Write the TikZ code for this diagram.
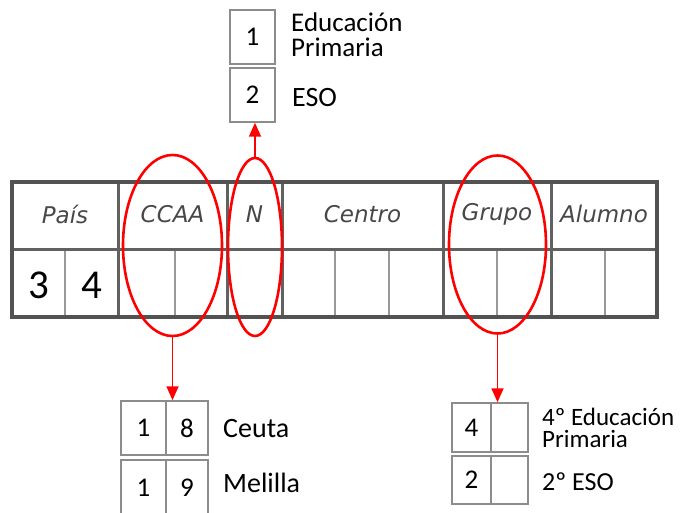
\documentclass[tikz,border=0pt]{standalone}
\usepackage{fontspec}
\setmainfont{Carlito}
\newfontfamily\hdrfont{DejaVu Sans}
\usetikzlibrary{shapes.geometric,arrows.meta}
\begin{document}
\begin{tikzpicture}[x=1pt,y=-1pt,
  hdr/.style={font=\hdrfont\itshape\fontsize{23pt}{26pt}\selectfont, text=black!72, inner sep=0pt},
  bigdig/.style={font=\fontsize{41pt}{44pt}\selectfont, inner sep=0pt},
  box/.style={draw=black!45, line width=1.5pt, inner sep=0pt, font=\fontsize{27pt}{30pt}\selectfont},
  lbl/.style={anchor=base west, align=left, inner sep=0pt},
  oval/.style={ellipse, draw=red, line width=2.6pt, inner sep=0pt, outer sep=0pt},
  arr/.style={draw=red, line width=1.8pt, -{Triangle[length=14pt,width=12pt]}},
  major/.style={draw=black!62, line width=3pt},
  minor/.style={draw=black!40, line width=2pt}
]
\useasboundingbox (0,0) rectangle (683,513);
\clip (0,0) rectangle (683,513);

% main table
\draw[minor] (65,250) -- (65,317);
\draw[minor] (175,250) -- (175,317);
\draw[minor] (335,250) -- (335,317);
\draw[minor] (389,250) -- (389,317);
\draw[minor] (497,250) -- (497,317);
\draw[minor] (605,250) -- (605,317);
\draw[major] (12,250) -- (657,250);
\foreach \x in {118,227,282,443,551} \draw[major] (\x,182) -- (\x,317);
\draw[draw=black!68, line width=4pt] (12,182) rectangle (657,317);

\node[hdr] (hpais) at (65,214) {País};
\node[hdr] (hccaa) at (172.5,214) {CCAA};
\node[hdr] (hn) at (254.5,214) {N};
\node[hdr] (hcentro) at (362.5,214) {Centro};
\node[hdr] (hgrupo) at (497,214) {Grupo};
\node[hdr] (halumno) at (604,214) {Alumno};
\node[bigdig] (d3) at (39,285.5) {3};
\node[bigdig] (d4) at (91.5,285.5) {4};

% ellipses
\node[oval, minimum width=99pt, minimum height=181pt] (eccaa) at (172.5,245.5) {};
\node[oval, minimum width=54pt, minimum height=178pt] (en) at (255,247) {};
\node[oval, minimum width=97pt, minimum height=178pt] (egrupo) at (497.5,244.5) {};

% top boxes
\node[box, minimum width=45pt, minimum height=54pt] (tb1) at (252.5,37) {1};
\node[box, minimum width=45pt, minimum height=54pt] (tb2) at (252.5,95) {2};
\node[lbl, font=\fontsize{27pt}{25pt}\selectfont] (tl1) at (291,57) {Educación\\Primaria};
\node[lbl, font=\fontsize{28pt}{30pt}\selectfont] (tl2) at (292,107) {ESO};

% bottom left boxes
\node[box, minimum width=45pt, minimum height=54pt] (bl1a) at (143.5,428) {1};
\node[box, minimum width=42pt, minimum height=54pt] (bl1b) at (187,428) {8};
\node[box, minimum width=45pt, minimum height=56pt] (bl2a) at (143.5,488) {1};
\node[box, minimum width=42pt, minimum height=56pt] (bl2b) at (187,488) {9};
\node[lbl, font=\fontsize{28pt}{30pt}\selectfont] (ceuta) at (223,437) {Ceuta};
\node[lbl, font=\fontsize{28pt}{30pt}\selectfont] (melilla) at (223,492) {Melilla};

% bottom right boxes
\node[box, minimum width=39pt, minimum height=49pt] (br1a) at (471.5,427.5) {4};
\node[box, minimum width=37pt, minimum height=49pt] (br1b) at (509.5,427.5) {};
\node[box, minimum width=39pt, minimum height=48pt] (br2a) at (471.5,480) {2};
\node[box, minimum width=37pt, minimum height=48pt] (br2b) at (509.5,480) {};
\node[lbl, font=\fontsize{25pt}{22pt}\selectfont] (edu4) at (542,447) {4º Educación\\Primaria};
\node[lbl, font=\fontsize{26pt}{28pt}\selectfont] (eso2) at (542,490) {2º ESO};

% arrows
\draw[arr] (eccaa.south) -- (eccaa.south |- bl1a.north);
\draw[arr] (en.north) -- (en.north |- tb2.south);
\draw[arr] (egrupo.south) -- (egrupo.south |- br1a.north);
\end{tikzpicture}
\end{document}
